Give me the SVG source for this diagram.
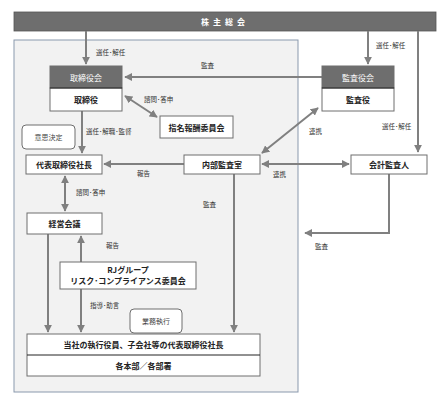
<svg xmlns="http://www.w3.org/2000/svg" width="447" height="401" viewBox="0 0 447 401">
<style>
text{font-family:"Noto Sans CJK JP","Noto Sans",sans-serif;}
.box{fill:#fff;stroke:#6e6e6e;stroke-width:1;}
.hdr{fill:#6e6e6e;stroke:#6e6e6e;stroke-width:1;}
.bt{font-size:8px;font-weight:bold;fill:#222;text-anchor:middle;dominant-baseline:central;}
.ht{font-size:8px;fill:#fff;text-anchor:middle;dominant-baseline:central;}
.lb{font-size:6.5px;fill:#333;dominant-baseline:central;}
.sm{font-size:7px;fill:#444;text-anchor:middle;dominant-baseline:central;}
.ln{fill:none;stroke:#808080;stroke-width:2;}
</style>
<defs>
<marker id="ah" viewBox="0 0 10 10" refX="9" refY="5" markerWidth="4" markerHeight="4" orient="auto-start-reverse" markerUnits="strokeWidth">
<path d="M0,0 L10,5 L0,10 z" fill="#808080"/>
</marker>
</defs>
<rect x="14" y="40" width="284" height="352" fill="#f2f2f2" stroke="#8a99ad" stroke-width="1"/>
<g id="shareholders">
<rect x="14" y="12" width="422" height="19" fill="#6e6e6e" stroke="#555" stroke-width="0.8"/>
<text x="225" y="21.5" class="ht" font-weight="bold" letter-spacing="4">株主総会</text>
</g>
<g id="connectors">
<path class="ln" d="M86,31 V64" marker-end="url(#ah)"/>
<path class="ln" d="M368,31 V64" marker-end="url(#ah)"/>
<path class="ln" d="M418,31 V152" marker-end="url(#ah)"/>
<path class="ln" d="M322,77 H125" marker-end="url(#ah)"/>
<path class="ln" d="M125,96 L157,117" marker-start="url(#ah)" marker-end="url(#ah)"/>
<path class="ln" d="M82,111 V153" marker-end="url(#ah)"/>
<path class="ln" d="M318,108 L262,153" marker-start="url(#ah)" marker-end="url(#ah)"/>
<path class="ln" d="M184,164 H104" marker-end="url(#ah)"/>
<path class="ln" d="M262,164 H349" marker-start="url(#ah)" marker-end="url(#ah)"/>
<path class="ln" d="M389,174 V233 H305" marker-end="url(#ah)"/>
<path class="ln" d="M234,174 V332" marker-end="url(#ah)"/>
<path class="ln" d="M65,176 V211" marker-start="url(#ah)" marker-end="url(#ah)"/>
<path class="ln" d="M48,234 V332" marker-end="url(#ah)"/>
<path class="ln" d="M81,262 V236" marker-end="url(#ah)"/>
<path class="ln" d="M81,289 V332" marker-end="url(#ah)"/>
</g>
<g id="labels">
<text x="96" y="52" class="lb">選任･解任</text>
<text x="376" y="45" class="lb">選任･解任</text>
<text x="382" y="126" class="lb">選任･解任</text>
<text x="201" y="65" class="lb">監査</text>
<text x="144" y="99" class="lb">諮問･答申</text>
<text x="86" y="131" class="lb">選任･解職･監督</text>
<text x="309" y="131" class="lb">連携</text>
<text x="137" y="173" class="lb">報告</text>
<text x="273" y="174" class="lb">連携</text>
<text x="76" y="192" class="lb">諮問･答申</text>
<text x="203" y="204" class="lb">監査</text>
<text x="315" y="246" class="lb">監査</text>
<text x="106" y="245" class="lb">報告</text>
<text x="90" y="305" class="lb">指導･助言</text>
</g>
<g id="board">
<rect x="50" y="66" width="72" height="22" class="hdr"/>
<rect x="50" y="88" width="72" height="23" class="box"/>
<line x1="50" y1="88" x2="122" y2="88" stroke="#222" stroke-width="1"/>
<text x="86" y="77" class="ht">取締役会</text>
<text x="86" y="99.5" class="bt">取締役</text>
</g>
<g id="auditboard">
<rect x="322" y="66" width="72" height="22" class="hdr"/>
<rect x="322" y="88" width="72" height="23" class="box"/>
<line x1="322" y1="88" x2="394" y2="88" stroke="#222" stroke-width="1"/>
<text x="358" y="77" class="ht">監査役会</text>
<text x="358" y="99.5" class="bt">監査役</text>
</g>
<g id="nomination">
<rect x="160" y="116" width="73" height="22" class="box"/>
<text x="196.5" y="127" class="bt">指名報酬委員会</text>
</g>
<g id="decision">
<rect x="22" y="125" width="53" height="24" rx="4" class="box"/>
<text x="48.5" y="137" class="sm">意思決定</text>
</g>
<g id="president">
<rect x="26" y="155" width="76" height="19" class="box"/>
<text x="64" y="164.5" class="bt">代表取締役社長</text>
</g>
<g id="internalaudit">
<rect x="184" y="155" width="76" height="19" class="box"/>
<text x="222" y="164.5" class="bt">内部監査室</text>
</g>
<g id="accountingauditor">
<rect x="351" y="155" width="76" height="19" class="box"/>
<text x="389" y="164.5" class="bt">会計監査人</text>
</g>
<g id="management">
<rect x="27" y="213" width="75" height="21" class="box"/>
<text x="64.5" y="223.5" class="bt">経営会議</text>
</g>
<g id="risk">
<rect x="60" y="262" width="136" height="27" class="box"/>
<text x="128" y="269" class="bt">RJグループ</text>
<text x="128" y="280" class="bt">リスク･コンプライアンス委員会</text>
</g>
<g id="execution">
<rect x="130" y="309" width="52" height="24" rx="4" class="box"/>
<text x="156" y="321" class="sm">業務執行</text>
</g>
<g id="officers">
<rect x="27" y="334" width="233" height="42" class="box"/>
<line x1="27" y1="355" x2="260" y2="355" stroke="#222" stroke-width="1"/>
<text x="143.5" y="344.5" class="bt">当社の執行役員、子会社等の代表取締役社長</text>
<text x="143.5" y="365.5" class="bt">各本部／各部署</text>
</g>
</svg>
